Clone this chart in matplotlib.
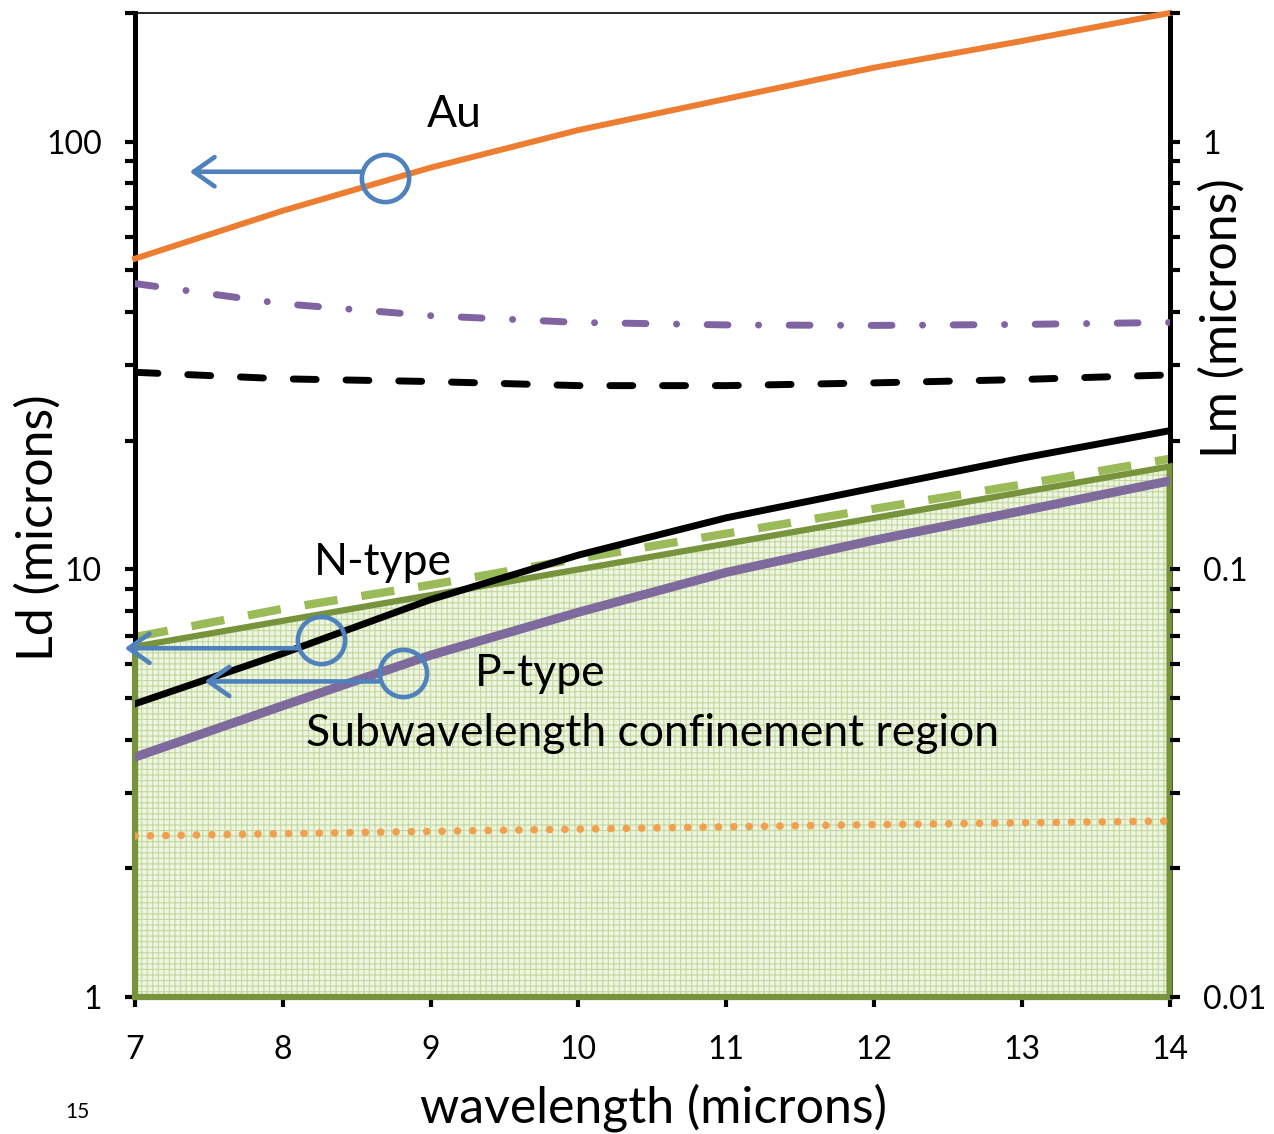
import numpy as np
import matplotlib.pyplot as plt
from matplotlib import transforms

plt.rcParams['font.family'] = ['Lato', 'DejaVu Sans']
plt.rcParams['hatch.linewidth'] = 0.8

# wavelength grid (microns)
wl = [7, 8, 9, 10, 11, 12, 13, 14]

# Ld curves (microns, left axis)
ld_au = [53.3, 69, 87, 106.5, 126, 149, 172, 200]
ld_dashdot = [46.6, 41.8, 39.2, 37.8, 37.3, 37.2, 37.4, 37.8]
ld_dashed = [28.9, 27.9, 27.5, 26.9, 26.9, 27.3, 27.8, 28.5]
ld_ntype = [4.85, 6.36, 8.5, 10.8, 13.2, 15.5, 18.2, 21.1]
ld_green = [6.82, 7.94, 9.03, 10.4, 11.9, 13.6, 15.5, 17.8]
ld_ptype = [3.64, 4.8, 6.3, 7.94, 9.84, 11.7, 13.7, 16.1]
ld_dotted = [2.38, 2.41, 2.44, 2.47, 2.50, 2.53, 2.555, 2.58]

# upper edge of the subwavelength confinement region
region_wl = [7, 14]
region_top = [6.6, 17.4]

ORANGE = '#ED7D31'
PURPLE = '#8064A2'
BLUE = '#4F81BD'
LGREEN = '#9BBB59'
OLIVE = '#77933C'

fig = plt.figure(figsize=(12.74, 11.34), dpi=100)
ax = fig.add_axes([0.106, 0.1208, 0.812, 0.8677])
ax.set_yscale('log')
ax.set_xlim(7, 14)
ax.set_ylim(1, 200)

# shaded region
verts = [(region_wl[0], 1)] + list(zip(region_wl, region_top)) + [(region_wl[-1], 1)]
xs, ys = zip(*verts)
ax.fill(xs, ys, facecolor='#eff5e3', edgecolor='#c3d89d', hatch='+++',
        lw=0, zorder=1)

# green dashed curve, nudged up so it sits on top of the region edge
up = transforms.offset_copy(ax.transData, fig=fig, x=0, y=2.5, units='points')
ax.plot(wl, ld_green, color=LGREEN, lw=6, dashes=(4.0, 2.9),
        solid_capstyle='butt', transform=up, zorder=2)
# region outline goes over the spines
ax.fill(xs, ys, facecolor='none', edgecolor=OLIVE, lw=4.5, zorder=3,
        clip_on=False, joinstyle='miter')

ax.plot(wl, ld_dotted, color='#F2A04E', lw=5.5, dashes=(0.01, 2.0),
        dash_capstyle='round', zorder=4)
ax.plot(wl, ld_ptype, color='#7E6A9C', lw=6.5, zorder=4)
ax.plot(wl, ld_ntype, color='black', lw=5, zorder=4)
ax.plot(wl, ld_dashed, color='black', lw=5, dashes=(3.3, 4.3),
        dash_capstyle='round', zorder=4)
ax.plot(wl, ld_dashdot, color=PURPLE, lw=5, dashes=(3.0, 4.4, 0.01, 4.4),
        dash_capstyle='round', zorder=4)
ax.plot(wl, ld_au, color=ORANGE, lw=4.3, zorder=4, clip_on=False)

# circles with arrows pointing at the left axis
marks = [(8.69, 82.4, 85.1, 7.37), (8.26, 6.83, 6.54, 6.93), (8.81, 5.71, 5.47, 7.47)]
for cx, cy, ay, tip in marks:
    ax.plot(cx, cy, 'o', ms=34, mfc='none', mec=BLUE, mew=3.3, zorder=6,
            clip_on=False)
    ax.annotate('', xy=(tip, ay), xytext=(cx - 0.16, ay),
                arrowprops=dict(arrowstyle='->,head_length=0.5,head_width=0.35',
                                mutation_scale=30, color=BLUE, lw=3.3,
                                shrinkA=0, shrinkB=0),
                annotation_clip=False, zorder=6)

ax.text(9.16, 116, 'Au', fontsize=32, ha='center', va='center')
ax.text(8.68, 10.4, 'N-type', fontsize=32, ha='center', va='center')
ax.text(9.74, 5.71, 'P-type', fontsize=32, ha='center', va='center')
ax.text(10.5, 4.14, 'Subwavelength confinement region', fontsize=32,
        ha='center', va='center')

# axes styling
for side in ['left', 'right', 'bottom']:
    ax.spines[side].set_linewidth(3.6)
ax.spines['top'].set_linewidth(1.2)
ax.set_xticks(wl)
ax.set_xticklabels([str(w) for w in wl])
ax.set_yticks([1, 10, 100])
ax.set_yticklabels(['1', '10', '100'])
ax.yaxis.set_minor_formatter(plt.NullFormatter())
ax.tick_params(which='both', direction='out', length=7, width=3, labelsize=23)
ax.tick_params(axis='x', pad=20)
ax.tick_params(axis='y', pad=17)

ax2 = ax.twinx()
ax2.set_yscale('log')
ax2.set_ylim(0.01, 2)
ax2.set_yticks([0.01, 0.1, 1])
ax2.set_yticklabels(['0.01', '0.1', '1'])
ax2.yaxis.set_minor_formatter(plt.NullFormatter())
ax2.tick_params(which='both', direction='out', length=7, width=3, labelsize=23,
                pad=17)
for sp in ax2.spines.values():
    sp.set_visible(False)

fig.text(653 / 1274, 1 - 1108 / 1134, 'wavelength (microns)', fontsize=36,
         ha='center', va='center')
fig.text(38 / 1274, 1 - 528 / 1134, 'Ld (microns)', fontsize=36,
         rotation=90, ha='center', va='center')
fig.text(1222 / 1274, 1 - 318 / 1134, 'Lm (microns)', fontsize=36,
         rotation=90, ha='center', va='center')
fig.text(77 / 1274, 1 - 1112 / 1134, '15', fontsize=15, ha='center',
         va='center')

fig.savefig('out.png', dpi=100)
